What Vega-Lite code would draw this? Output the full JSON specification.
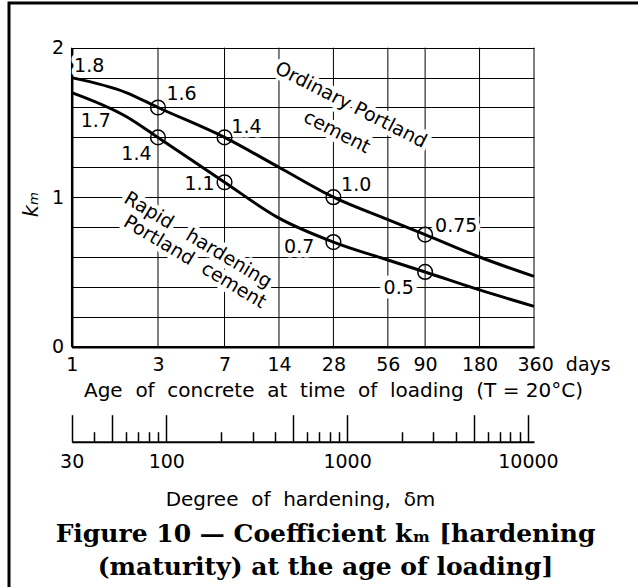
{
  "$schema": "https://vega.github.io/schema/vega-lite/v6.json",
  "width": 633,
  "height": 590,
  "autosize": {"type": "none"},
  "padding": {"left": 9, "top": 3, "right": -4, "bottom": -6},
  "background": "white",
  "title": {
    "text": ["Figure 10 — Coefficient kₘ [hardening", "(maturity) at the age of loading]"],
    "orient": "bottom",
    "anchor": "middle",
    "offset": -51,
    "baseline": "alphabetic",
    "font": "DejaVu Serif",
    "fontSize": 25,
    "fontWeight": "bold",
    "lineHeight": 33,
    "color": "black"
  },
  "config": {
    "view": {"stroke": "black", "strokeWidth": 3},
    "font": "DejaVu Sans",
    "axis": {
      "domainColor": "black",
      "gridColor": "black",
      "gridOpacity": 1,
      "gridWidth": 1,
      "labelColor": "black",
      "titleColor": "black",
      "labelFont": "DejaVu Sans",
      "titleFont": "DejaVu Sans",
      "labelFontSize": 19,
      "titleFontSize": 20,
      "titleFontWeight": "normal",
      "ticks": false,
      "labelFlush": false,
      "labelOverlap": false,
      "labelBound": false
    }
  },
  "datasets": {
    "curves": [
      {"cement": "Ordinary", "day": 1, "km": 1.8},
      {"cement": "Ordinary", "day": 2, "km": 1.7},
      {"cement": "Ordinary", "day": 3, "km": 1.6},
      {"cement": "Ordinary", "day": 7, "km": 1.4},
      {"cement": "Ordinary", "day": 14, "km": 1.2},
      {"cement": "Ordinary", "day": 28, "km": 1.0},
      {"cement": "Ordinary", "day": 56, "km": 0.85},
      {"cement": "Ordinary", "day": 90, "km": 0.75},
      {"cement": "Ordinary", "day": 180, "km": 0.6},
      {"cement": "Ordinary", "day": 360, "km": 0.47},
      {"cement": "Rapid", "day": 1, "km": 1.7},
      {"cement": "Rapid", "day": 2, "km": 1.54},
      {"cement": "Rapid", "day": 3, "km": 1.4},
      {"cement": "Rapid", "day": 7, "km": 1.1},
      {"cement": "Rapid", "day": 14, "km": 0.86},
      {"cement": "Rapid", "day": 28, "km": 0.7},
      {"cement": "Rapid", "day": 56, "km": 0.58},
      {"cement": "Rapid", "day": 90, "km": 0.5},
      {"cement": "Rapid", "day": 180, "km": 0.38},
      {"cement": "Rapid", "day": 360, "km": 0.27}
    ],
    "points": [
      {"cement": "Ordinary", "day": 3, "km": 1.6},
      {"cement": "Ordinary", "day": 7, "km": 1.4},
      {"cement": "Ordinary", "day": 28, "km": 1.0},
      {"cement": "Ordinary", "day": 90, "km": 0.75},
      {"cement": "Rapid", "day": 3, "km": 1.4},
      {"cement": "Rapid", "day": 7, "km": 1.1},
      {"cement": "Rapid", "day": 28, "km": 0.7},
      {"cement": "Rapid", "day": 90, "km": 0.5}
    ],
    "labels": [
      {"day": 1.25, "km": 1.88, "text": "1.8"},
      {"day": 4.05, "km": 1.69, "text": "1.6"},
      {"day": 9.25, "km": 1.47, "text": "1.4"},
      {"day": 37.4, "km": 1.08, "text": "1.0"},
      {"day": 133.7, "km": 0.81, "text": "0.75"},
      {"day": 1.36, "km": 1.51, "text": "1.7"},
      {"day": 2.28, "km": 1.29, "text": "1.4"},
      {"day": 5.09, "km": 1.09, "text": "1.1"},
      {"day": 18.1, "km": 0.67, "text": "0.7"},
      {"day": 64.3, "km": 0.39, "text": "0.5"}
    ],
    "names": [
      {"cement": "Ordinary", "day": 35.0, "km": 1.617, "text": "Ordinary Portland"},
      {"cement": "Ordinary", "day": 29.3, "km": 1.436, "text": "cement"},
      {"cement": "Rapid", "day": 4.99, "km": 0.714, "text": "Rapid\u00a0\u00a0\u00a0hardening"},
      {"cement": "Rapid", "day": 4.8, "km": 0.567, "text": "Portland\u00a0 cement"}
    ],
    "dayGrid": [
      {"day": 1, "kmFrom": 0, "kmTo": 2},
      {"day": 3, "kmFrom": 0, "kmTo": 2},
      {"day": 7, "kmFrom": 0, "kmTo": 2},
      {"day": 14, "kmFrom": 0, "kmTo": 2},
      {"day": 28, "kmFrom": 0, "kmTo": 2},
      {"day": 56, "kmFrom": 0, "kmTo": 2},
      {"day": 90, "kmFrom": 0, "kmTo": 2},
      {"day": 180, "kmFrom": 0, "kmTo": 2},
      {"day": 360, "kmFrom": 0, "kmTo": 2}
    ],
    "hardening": [
      {"dm": 30},
      {"dm": 100},
      {"dm": 1000},
      {"dm": 10000}
    ]
  },
  "layer": [
    {
      "encoding": {
        "x": {
          "field": "day",
          "type": "quantitative",
          "scale": {"type": "log", "domain": [1, 360], "range": [62.7, 525], "nice": false},
          "axis": {
            "orient": "bottom",
            "values": [1, 3, 7, 14, 28, 56, 90, 180, 360],
            "format": "d",
            "offset": -246.3,
            "domainWidth": 2.5,
            "grid": false,
            "labelPadding": 9,
            "labelExpr": "datum.value == 360 ? '360\u00a0\u00a0days' : datum.label",
            "labelAlign": {"condition": {"test": "datum.value == 360", "value": "left"}, "value": "center"},
            "labelOffset": {"condition": {"test": "datum.value == 360", "value": -17}, "value": 0},
            "title": "Age\u00a0 of\u00a0 concrete\u00a0 at\u00a0 time\u00a0 of\u00a0 loading\u00a0 (T\u00a0=\u00a020°C)",
            "titleX": 324,
            "titleY": 50,
            "titleAlign": "center",
            "titleBaseline": "alphabetic"
          }
        },
        "y": {
          "field": "km",
          "type": "quantitative",
          "scale": {"domain": [0, 2], "range": [343.7, 44.7], "nice": false, "zero": false},
          "axis": {
            "values": [0, 0.2, 0.4, 0.6, 0.8, 1, 1.2, 1.4, 1.6, 1.8, 2],
            "offset": -62.7,
            "domainWidth": 2.5,
            "grid": true,
            "labelPadding": 8,
            "labelExpr": "datum.value % 1 === 0 ? format(datum.value, 'd') : ''",
            "title": "kₘ",
            "titleFontStyle": "italic",
            "titleFontSize": 21,
            "titleAngle": -90,
            "titleX": -40,
            "titleY": 201,
            "titleAlign": "center",
            "titleBaseline": "middle"
          }
        }
      },
      "layer": [
        {
          "data": {"name": "dayGrid"},
          "mark": {"type": "rule", "color": "black", "strokeWidth": 1},
          "encoding": {
            "y": {"field": "kmFrom", "type": "quantitative"},
            "y2": {"field": "kmTo"}
          }
        },
        {
          "data": {"name": "labels"},
          "mark": {"type": "text", "fontSize": 19, "align": "center", "baseline": "middle", "fill": "white", "stroke": "white", "strokeWidth": 9, "strokeJoin": "round"},
          "encoding": {"text": {"field": "text"}}
        },
        {
          "data": {"name": "names"},
          "transform": [{"filter": "datum.cement == 'Ordinary'"}],
          "mark": {"type": "text", "fontSize": 19, "angle": 27, "align": "center", "baseline": "middle", "fill": "white", "stroke": "white", "strokeWidth": 9, "strokeJoin": "round"},
          "encoding": {"text": {"field": "text"}}
        },
        {
          "data": {"name": "names"},
          "transform": [{"filter": "datum.cement == 'Rapid'"}],
          "mark": {"type": "text", "fontSize": 19, "angle": 31, "align": "center", "baseline": "middle", "fill": "white", "stroke": "white", "strokeWidth": 9, "strokeJoin": "round"},
          "encoding": {"text": {"field": "text"}}
        },
        {
          "data": {"name": "curves"},
          "mark": {"type": "line", "color": "black", "strokeWidth": 3, "interpolate": "monotone"},
          "encoding": {"detail": {"field": "cement"}}
        },
        {
          "data": {"name": "points"},
          "mark": {"type": "point", "shape": "circle", "filled": false, "size": 215, "stroke": "black", "strokeWidth": 1.5, "opacity": 1}
        },
        {
          "data": {"name": "labels"},
          "mark": {"type": "text", "fontSize": 19, "align": "center", "baseline": "middle", "color": "black"},
          "encoding": {"text": {"field": "text"}}
        },
        {
          "data": {"name": "names"},
          "transform": [{"filter": "datum.cement == 'Ordinary'"}],
          "mark": {"type": "text", "fontSize": 19, "angle": 27, "align": "center", "baseline": "middle", "color": "black"},
          "encoding": {"text": {"field": "text"}}
        },
        {
          "data": {"name": "names"},
          "transform": [{"filter": "datum.cement == 'Rapid'"}],
          "mark": {"type": "text", "fontSize": 19, "angle": 31, "align": "center", "baseline": "middle", "color": "black"},
          "encoding": {"text": {"field": "text"}}
        }
      ]
    },
    {
      "data": {"name": "hardening"},
      "mark": {"type": "point", "opacity": 0},
      "encoding": {
        "x": {
          "field": "dm",
          "type": "quantitative",
          "scale": {"type": "log", "domain": [30, 10800], "range": [62.7, 525], "nice": false},
          "axis": {
            "orient": "bottom",
            "values": [30, 40, 50, 60, 70, 80, 90, 100, 200, 300, 400, 500, 600, 700, 800, 900, 1000, 2000, 3000, 4000, 5000, 6000, 7000, 8000, 9000, 10000],
            "offset": -151.3,
            "grid": false,
            "ticks": true,
            "tickColor": "black",
            "tickWidth": 1.5,
            "tickSize": {"condition": {"test": "indexof([30, 50, 100, 500, 1000, 5000, 10000], datum.value) >= 0", "value": -27}, "value": -10},
            "domainWidth": 2,
            "labelPadding": 38,
            "labelExpr": "indexof([30, 100, 1000, 10000], datum.value) >= 0 ? format(datum.value, 'd') : ''",
            "title": "Degree\u00a0 of\u00a0 hardening,\u00a0 δm",
            "titleX": 291,
            "titleY": 64,
            "titleAlign": "center",
            "titleBaseline": "alphabetic"
          }
        }
      }
    }
  ],
  "resolve": {"scale": {"x": "independent"}, "axis": {"x": "independent"}}
}
